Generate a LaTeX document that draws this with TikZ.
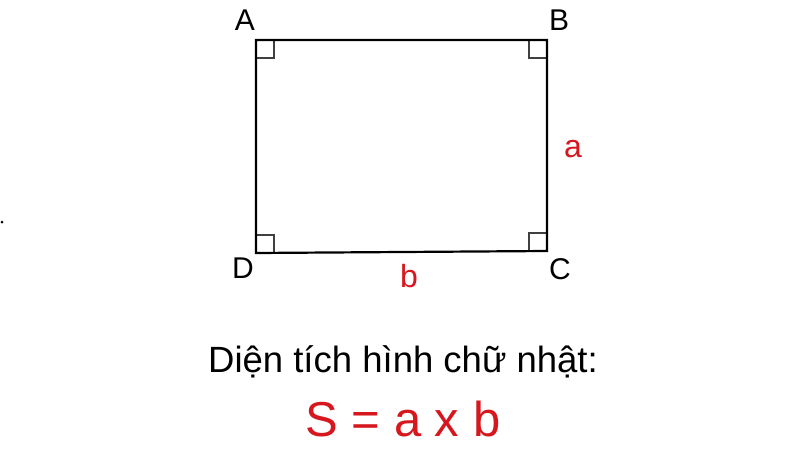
\documentclass[tikz,border=0pt]{standalone}
\usepackage{fontspec}
\setmainfont{Liberation Sans}
\definecolor{labred}{RGB}{214,24,30}
\begin{document}
\begin{tikzpicture}[x=1pt,y=-1pt,
  side/.style={line width=2.2pt,line join=miter},
  rmark/.style={line width=1.5pt,draw=black!75},
  vlabel/.style={anchor=base,inner sep=0pt,font=\fontsize{30}{30}\selectfont},
  redlabel/.style={anchor=base,inner sep=0pt,text=labred,font=\fontsize{32}{32}\selectfont},
  caption/.style={anchor=base,inner sep=0pt,font=\fontsize{36.5}{36.5}\selectfont},
  formula/.style={anchor=base,inner sep=0pt,text=labred,font=\fontsize{49}{49}\selectfont}]
\useasboundingbox (0,0) rectangle (800,450);
\fill[white] (0,0) rectangle (800,450);
\coordinate (A) at (256,40);
\coordinate (B) at (547,40);
\coordinate (C) at (547,251);
\coordinate (D) at (256,253);
% right-angle marks
\draw[rmark] (256,58) -- (274,58) -- (274,40);
\draw[rmark] (529,40) -- (529,58) -- (547,58);
\draw[rmark] (256,235) -- (274,235) -- (274,253);
\draw[rmark] (529,251) -- (529,233) -- (547,233);
\draw[side] (A) -- (B) -- (C) -- (D) -- cycle;
% dot
\fill (2,222) circle (1.5);
% vertex labels
\node[vlabel] (lA) at (245,30) {A};
\node[vlabel] (lB) at (559,30) {B};
\node[vlabel] (lD) at (243,278) {D};
\node[vlabel] (lC) at (560,279) {C};
\node[redlabel] (la) at (573,157) {a};
\node[redlabel] (lb) at (409,287) {b};
\node[caption] (cap) at (403,372) {Diện tích hình chữ nhật:};
\node[formula] (form) at (403,436) {S = a x b};
\end{tikzpicture}
\end{document}
